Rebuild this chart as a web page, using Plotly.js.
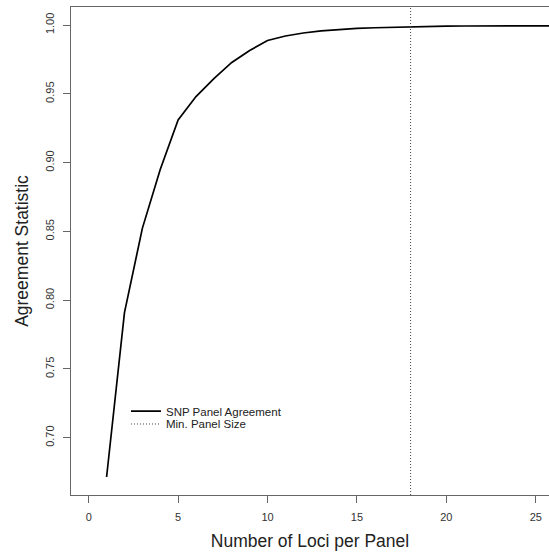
<!DOCTYPE html>
<html>
<head>
<meta charset="utf-8">
<script src="https://cdn.plot.ly/plotly-3.0.1.min.js"></script>
<style>html,body{margin:0;padding:0;background:#fff;}#chart{width:549px;height:554px;}</style>
</head>
<body>
<div id="chart"></div>
<script>
// Data
const lociPerPanel = [1,2,3,4,5,6,7,8,9,10,11,12,13,14,15,16,17,18,19,20,21,22,23,24,25,26,27,28,29,30,31,32,33,34,35,36,37,38,39,40,41,42,43,44,45,46,47,48,49,50];
const agreement = [0.6715,0.7910,0.8522,0.8950,0.9310,0.9480,0.9610,0.9728,0.9815,0.9888,0.9920,0.9942,0.9958,0.9968,0.9975,0.9980,0.9984,0.9987,0.9990,0.9992,0.9993,0.9994,0.9995,0.9996,0.9997,0.9997,0.9998,0.9998,0.9998,0.9999,0.9999,0.9999,0.9999,0.9999,0.9999,1.0000,1.0000,1.0000,1.0000,1.0000,1.0000,1.0000,1.0000,1.0000,1.0000,1.0000,1.0000,1.0000,1.0000,1.0000];
const minPanelSize = 18;
const xTicks = [0,5,10,15,20,25];
const yTicks = [0.70,0.75,0.80,0.85,0.90,0.95,1.00];
const yTickText = ["0.70","0.75","0.80","0.85","0.90","0.95","1.00"];
const xRange = [-0.99, 25.74];
const yRange = [0.6584, 1.0131];

const font = "Liberation Sans, Arial, Helvetica, sans-serif";
const traces = [
  {x: lociPerPanel, y: agreement, mode: 'lines', name: 'SNP Panel Agreement',
   line: {color: '#000', width: 1.7}, legend: 'legend', hoverinfo: 'skip'},
  {x: [minPanelSize, minPanelSize], y: yRange, mode: 'lines', name: 'Min. Panel Size',
   line: {color: '#444', width: 1, dash: '1px,2px'}, legend: 'legend2', hoverinfo: 'skip'}
];
const axisCommon = {
  showgrid: false, zeroline: false, showline: true, linecolor: '#666', linewidth: 1,
  ticks: 'outside', ticklen: 7, tickwidth: 1, tickcolor: '#666',
  tickfont: {family: font, size: 11, color: '#333'}, ticklabelstandoff: 5
};
const layout = {
  width: 549, height: 554,
  margin: {l: 71, r: 0, t: 7, b: 59},
  paper_bgcolor: '#fff', plot_bgcolor: '#fff',
  font: {family: font, color: '#222'},
  xaxis: Object.assign({}, axisCommon, {
    range: xRange, tickvals: xTicks, mirror: true,
    title: {text: 'Number of Loci per Panel', font: {family: font, size: 17.5, color: '#222'}, standoff: 12}
  }),
  yaxis: Object.assign({}, axisCommon, {
    range: yRange, tickvals: yTicks, ticktext: yTickText, tickangle: -90,
    title: {text: 'Agreement Statistic', font: {family: font, size: 17.5, color: '#222'}, standoff: 10}
  }),
  showlegend: true,
  legend: {x: 0.115, y: 0.172, xanchor: 'left', yanchor: 'middle', bgcolor: 'rgba(0,0,0,0)',
    font: {family: font, size: 11.5, color: '#222'}, itemwidth: 30},
  legend2: {x: 0.115, y: 0.1455, xanchor: 'left', yanchor: 'middle', bgcolor: 'rgba(0,0,0,0)',
    font: {family: font, size: 11.5, color: '#222'}, itemwidth: 30}
};
Plotly.newPlot('chart', traces, layout, {displayModeBar: false, staticPlot: true});
</script>
</body>
</html>
